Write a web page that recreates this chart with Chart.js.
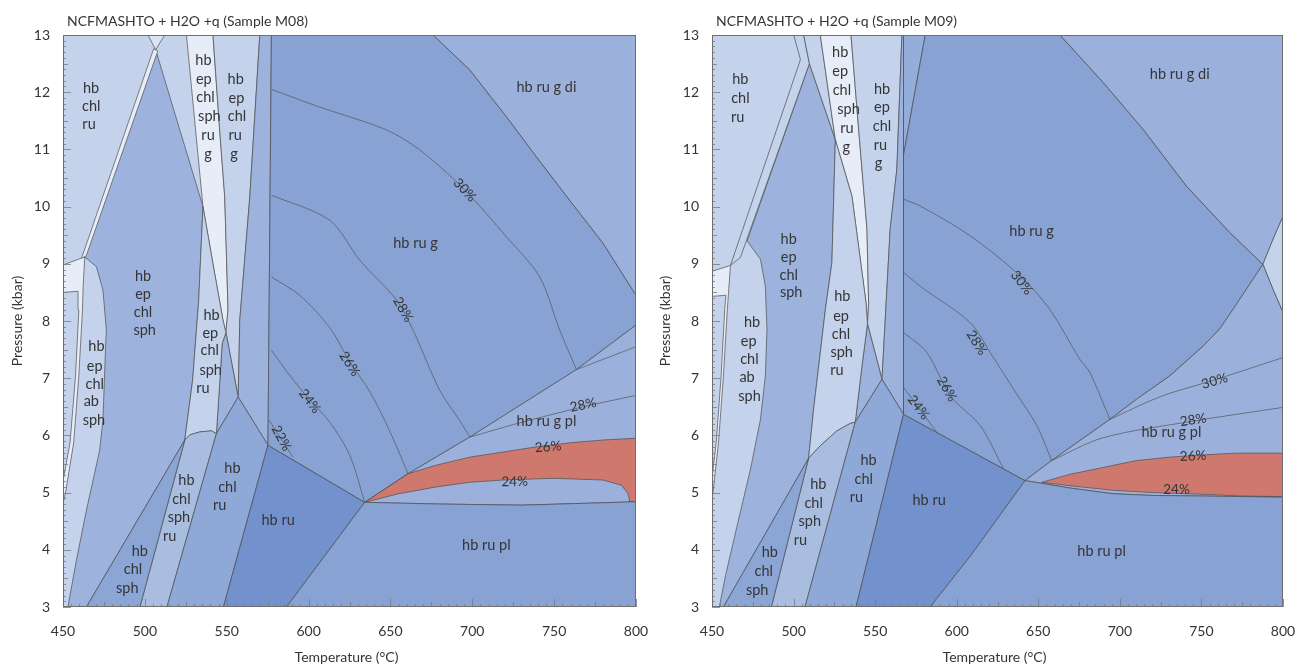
<!DOCTYPE html>
<html>
<head>
<meta charset="utf-8">
<script src="https://cdn.jsdelivr.net/npm/chart.js@4.4.1/dist/chart.umd.min.js"></script>
<style>
  html, body { margin: 0; padding: 0; background: #ffffff; }
  #wrap { position: relative; width: 1296px; height: 666px; overflow: hidden; }
  .panel { position: absolute; top: 0; width: 648px; height: 666px; }
</style>
</head>
<body>
<div id="wrap">
  <div class="panel" style="left:0px"><canvas id="m08" width="648" height="666"></canvas></div>
  <div class="panel" style="left:648px"><canvas id="m09" width="648" height="666"></canvas></div>
</div>
<script>
// ---------- axes ----------
const temperatureRange = [450, 800];   // °C
const pressureRange = [3, 13];         // kbar
const temperatureStep = 50;
const pressureStep = 1;

// ---------- Sample M08 : phase fields, [T (°C), P (kbar)] ----------
const m08_hbEpChlSph = [[506.6,12.74],[535.5,10.0],[532.9,8.37],[529.2,6.97],[524.4,5.92],[464.3,3],[453,3],[458.2,3.82],[464.3,4.69],[472.4,5.74],[474.4,6.27],[476.1,7.61],[476.5,7.84],[474.4,8.54],[470.4,8.95],[463.3,9.12]];
const m08_strip = [[460.9,9.06],[505.4,12.76],[507.9,12.72],[464.3,9.15]];
const m08_topNotch = [[501.9,13],[512.1,13],[506.6,12.74]];
const m08_leftWhite = [[450,8.98],[463.3,9.12],[462.3,8.6],[461.9,8.19],[459.6,7.02],[456.5,5.87],[451.8,5.04],[450,4.8],[450,5.2],[454.3,5.87],[457.6,7.02],[459.7,8.19],[459.2,8.52],[450,8.5]];
const m08_epChlSphRuG = [[525.4,13],[541.6,13],[545.7,11.34],[548.8,10.17],[550.8,8.2],[549.5,7.8],[547.7,8.02],[541.6,9.0],[535.5,10.0]];
const m08_epChlRuG = [[541.6,13],[570.2,13],[564.1,10.17],[558,8.02],[557,6.67],[549.5,7.8],[550.8,8.2],[548.8,10.17],[545.7,11.34]];
const m08_column = [[570.2,13],[577.3,13],[575.2,5.83],[557,6.67],[558,8.02],[564.1,10.17]];
const m08_wedge = [[549.5,7.8],[557,6.67],[543.7,6.03],[545.7,6.91],[547.2,7.6]];
const m08_epChlSphRu = [[535.5,10.0],[541.6,9.0],[547.7,8.02],[549.5,7.8],[547.2,7.6],[545.7,6.91],[543.7,6.03],[540.7,6.08],[533.5,6.06],[527.5,6.01],[524.4,5.92],[529.2,6.97],[532.9,8.37]];
const m08_chlSphRu = [[543.7,6.03],[513.5,3],[497,3],[524.4,5.92],[527.5,6.01],[533.5,6.06],[540.7,6.08]];
const m08_chlRu = [[557,6.67],[575.2,5.83],[548,3],[513.5,3],[543.7,6.03]];
const m08_chlSph = [[524.4,5.92],[497,3],[464.3,3]];
const m08_hbRu = [[575.2,5.83],[634.3,4.83],[586.5,3],[548,3]];
const m08_ruG = [[577.3,13],[676.1,13],[698.5,12.39],[720.9,11.57],[739.2,10.87],[759.5,10.11],[779.9,9.36],[800,8.45],[800,7.93],[763.6,7.15],[698.5,5.97],[660.8,5.33],[634.3,4.83],[575.2,5.83]];
const m08_ruGDi = [[676.1,13],[800,13],[800,8.45],[779.9,9.36],[759.5,10.11],[739.2,10.87],[720.9,11.57],[698.5,12.39]];
const m08_ruGPl = [[634.3,4.83],[660.8,5.33],[698.5,5.97],[763.6,7.15],[800,7.93],[800,4.84],[730,4.78],[680,4.80]];
const m08_garnet24to26 = [[634.3,4.83],[655,4.98],[678.1,5.10],[698.5,5.18],[718.8,5.22],[749.3,5.25],[779.9,5.22],[791.1,5.13],[795.2,4.98],[796.2,4.84],[800,4.84],[800,5.95],[780,5.92],[759.5,5.87],[739.2,5.80],[718.8,5.71],[698.5,5.62],[678,5.48],[660.8,5.33]];
const m08_ruPl = [[634.3,4.83],[680,4.80],[730,4.78],[800,4.84],[800,3],[586.5,3]];

// garnet isopleths (vol %)
const m08_iso30 = [[577.3,12.05],[606.8,11.74],[647.6,11.34],[667.9,10.99],[694.4,10.32],[720.9,9.47],[741.2,8.77],[753.4,7.84],[763.6,7.15]];
const m08_iso28 = [[577.3,10.2],[613,9.76],[631.3,9.06],[653.7,8.37],[663.8,7.84],[680.1,6.79],[692.3,6.26],[698.5,5.97]];
const m08_iso26 = [[577.3,8.77],[594.6,8.45],[613,7.88],[625.3,7.28],[637.5,6.76],[649.8,6.06],[660.8,5.33]];
const m08_iso24 = [[577.3,7.49],[588.5,7.05],[600.7,6.62],[613,6.23],[625.2,5.65],[634.3,4.83]];
const m08_iso22 = [[575.8,6.27],[583,5.95],[590.5,5.62]];
const m08_iso30pl = [[763.6,7.15],[800,7.55]];
const m08_iso28pl = [[698.5,5.97],[729,6.22],[767.7,6.5],[800,6.70]];

// field names: [text, T, P]
const m08_fieldLabels = [
  ["hb",467.1,12.06],["chl",467.3,11.75],["ru",465.9,11.44],
  ["hb",535.8,12.56],["ep",536,12.23],["chl",537,11.91],["sph",539.4,11.58],["ru",538.6,11.25],["g",538.6,10.92],
  ["hb",555.5,12.23],["ep",555.9,11.9],["chl",556.3,11.58],["ru",555.1,11.25],["g",554.5,10.92],
  ["hb",498.9,8.78],["ep",498.9,8.47],["chl",498.9,8.15],["sph",499.9,7.83],
  ["hb",470.4,7.55],["ep",469.4,7.21],["chl",469.4,6.9],["ab",467.3,6.59],["sph",468.9,6.27],
  ["hb",540.7,8.1],["ep",540,7.78],["chl",539.6,7.48],["sph",540.2,7.14],["ru",535.5,6.82],
  ["hb",525.4,5.22],["chl",522.3,4.88],["sph",520.8,4.56],["ru",515.2,4.24],
  ["hb",553.5,5.42],["chl",550.4,5.10],["ru",545.7,4.78],
  ["hb",496.9,3.98],["chl",492.8,3.66],["sph",489.3,3.32],
  ["hb ru",581.4,4.51],["hb ru pl",708.6,4.08],["hb ru g pl",745.3,6.25],
  ["hb ru g",665.3,9.36],["hb ru g di",745.3,12.09]
];
// isopleth values: [text, T, P, angle°]
const m08_isoLabels = [
  ["30%",695.4,10.29,47],["28%",657.7,8.2,60],["26%",625.1,7.25,57],["24%",600.7,6.6,52],["22%",583.4,5.95,62],
  ["28%",767.7,6.53,-12],["26%",746.3,5.80,-5],["24%",725.9,5.19,-1]
];

// ---------- Sample M09 : phase fields ----------
const m09_hbEpChlSph = [[509.7,12.5],[525.6,11.17],[523.5,9.02],[519.5,8.2],[512.3,6.46],[509.2,5.6],[457,3],[454.5,3],[458.3,3.55],[465.4,4.42],[473.6,5.41],[479.7,6.28],[482.7,7.04],[483.7,7.86],[482.7,8.61],[479.7,9.08],[471.5,9.4]];
const m09_strip = [[461.3,8.97],[504.2,12.57],[500.1,13],[506.2,13],[509.7,12.5],[467.4,9.11]];
const m09_leftWhite = [[450,8.87],[461.3,8.97],[459.4,8.2],[457,7.04],[454,5.88],[450.6,5.0],[450,4.9],[450,5.25],[452.6,5.88],[455.6,7.04],[457.8,8.2],[458.5,8.45],[450,8.43]];
const m09_topWedge = [[506.2,13],[516.4,13],[525.6,11.17],[509.7,12.5]];
const m09_epChlSphRuG = [[516.4,13],[535.2,13],[539.9,11.35],[545,9.6],[546,8.3],[545.3,7.95],[544.5,8.3],[535.8,10.18],[525.6,11.17]];
const m09_epChlRuG = [[535.2,13],[566.4,13],[563.3,10.65],[559.2,9.6],[556.2,8.03],[554.2,6.98],[545.3,7.95],[546,8.3],[545,9.6],[539.9,11.35]];
const m09_column = [[566.4,13],[567.4,13],[567.4,6.37],[554.2,6.98],[556.2,8.03],[559.2,9.6],[563.3,10.65]];
const m09_sliver = [[567.4,13],[580.7,13],[567.4,10.9]];
const m09_wedge = [[545.3,7.95],[554.2,6.98],[537.8,6.23],[541.9,7.21]];
const m09_epChlSphRu = [[525.6,11.17],[535.8,10.18],[544.5,8.3],[545.3,7.95],[541.9,7.21],[537.8,6.23],[534.8,6.21],[526.6,6.08],[516.4,5.82],[509.2,5.6],[512.3,6.46],[519.5,8.2],[523.5,9.02]];
const m09_chlSphRu = [[537.8,6.23],[507,3],[486.4,3],[509.2,5.6],[516.4,5.82],[526.6,6.08],[534.8,6.21]];
const m09_chlRu = [[554.2,6.98],[567.4,6.37],[538.3,3],[507,3],[537.8,6.23]];
const m09_chlSph = [[509.2,5.6],[486.4,3],[457,3]];
const m09_hbRu = [[567.4,6.37],[641.9,5.21],[608.3,3.89],[583.7,3],[538.3,3]];
const m09_ruG = [[567.4,10.9],[580.7,13],[663.3,13],[689.8,12.17],[714.3,11.35],[740.8,10.36],[767.3,9.55],[787.7,8.99],[769.3,8.2],[761.2,7.86],[751,7.56],[730.6,7.04],[710.2,6.63],[693.9,6.28],[658.2,5.56],[641.9,5.21],[567.4,6.37]];
const m09_ruGDi = [[663.3,13],[800,13],[800,9.83],[793.9,9.43],[787.7,8.99],[767.3,9.55],[740.8,10.36],[714.3,11.35],[689.8,12.17]];
const m09_ruGDiPl = [[787.7,8.99],[793.9,9.43],[800,9.83],[800,8.15],[793.9,8.55]];
const m09_ruGPl = [[641.9,5.21],[658.2,5.56],[693.9,6.28],[710.2,6.63],[730.6,7.04],[751,7.56],[761.2,7.86],[769.3,8.2],[787.7,8.99],[793.9,8.55],[800,8.15],[800,4.92],[751,4.94],[720.4,4.95],[695.9,4.98],[669.4,5.08]];
const m09_garnet24to26 = [[652.1,5.18],[669.4,5.32],[689.8,5.44],[710.2,5.56],[730.6,5.62],[751,5.66],[771.4,5.69],[800,5.69],[800,4.93],[775,4.94],[751,4.97],[720.4,5.0],[695.9,5.04],[669.4,5.12]];
const m09_ruPl = [[641.9,5.21],[669.4,5.08],[695.9,4.98],[720.4,4.95],[751,4.94],[800,4.92],[800,3],[583.7,3],[608.3,3.89]];

const m09_iso30 = [[567.4,10.13],[577.6,10.01],[608.2,9.49],[638.8,8.79],[657.1,8.2],[675.5,7.33],[681.6,7.1],[693.9,6.28]];
const m09_iso28 = [[567.4,8.85],[577.6,8.61],[608.3,7.97],[620.5,7.45],[634.8,6.81],[649.1,6.17],[658.2,5.56]];
const m09_iso26 = [[567.4,7.8],[581.7,7.45],[596.1,6.69],[614.4,6.17],[628.8,5.41]];
const m09_iso24 = [[567.4,6.84],[576.6,6.49],[587.8,6.05]];
const m09_iso30pl = [[693.9,6.28],[725,6.68],[758,6.97],[800,7.36]];
const m09_iso28pl = [[658.2,5.56],[689.8,5.96],[744.9,6.25],[800,6.49]];

const m09_fieldLabels = [
  ["hb",467.4,12.22],["chl",467.4,11.89],["ru",465.8,11.56],
  ["hb",528.6,12.69],["ep",528.6,12.37],["chl",529.6,12.03],["sph",533.7,11.7],["ru",532.7,11.36],["g",532.3,11.04],
  ["hb",554.2,12.05],["ep",554.2,11.73],["chl",554.2,11.41],["ru",553.2,11.07],["g",552.1,10.75],
  ["hb",497,9.43],["ep",497,9.11],["chl",497,8.8],["sph",498.5,8.5],
  ["hb",529.9,8.44],["ep",529.1,8.09],["chl",529.1,7.77],["sph",529.5,7.45],["ru",526.6,7.13],
  ["hb",474.6,7.97],["ep",472.5,7.65],["chl",472.9,7.33],["ab",471.5,7.01],["sph",473,6.68],
  ["hb",515.2,5.15],["chl",512.3,4.82],["sph",509.9,4.5],["ru",504.2,4.17],
  ["hb",546,5.57],["chl",543,5.24],["ru",538.5,4.92],
  ["hb",485.4,3.96],["chl",481.7,3.63],["sph",477.7,3.3],
  ["hb ru",583.1,4.86],["hb ru pl",688.8,3.98],["hb ru g pl",731.6,6.05],
  ["hb ru g",645.9,9.57],["hb ru g di",736.7,12.31]
];
const m09_isoLabels = [
  ["30%",639.8,8.67,52],["28%",612.2,7.62,58],["26%",594,6.81,60],["24%",576.6,6.49,52],
  ["30%",758.1,6.95,-16],["28%",744.9,6.27,-9],["26%",744.9,5.64,-3],["24%",734.7,5.06,0]
];

// ---------- colours ----------
const C = {
  pale:   '#c4d2eb',
  white:  '#e7edf8',
  notch:  '#dae3f3',
  mid:    '#9db3dd',
  sliver: '#94add9',
  lightMid: '#a9bde1',
  chlRu:  '#8ea8d7',
  chlSph: '#8ba5d5',
  hbRu:   '#7391cc',
  ruG:    '#87a2d3',
  ruGDi:  '#9bb1dc',
  ruGPl:  '#9bb1dc',
  ruPl:   '#87a2d3',
  garnet: '#cf786e'
};
const FONT = 'Lato, "Open Sans", sans-serif';
const TEXT = '#353535';
const EDGE = '#4e4e4e';

function fieldSet(pts, color) {
  const data = pts.map(p => ({ x: p[0], y: p[1] }));
  data.push({ x: pts[0][0], y: pts[0][1] });
  return { data, backgroundColor: color, borderColor: EDGE, borderWidth: 0.7,
           fill: 'shape', pointRadius: 0, pointHoverRadius: 0, tension: 0 };
}
function isoSet(pts) {
  return { data: pts.map(p => ({ x: p[0], y: p[1] })), borderColor: '#555555', borderWidth: 0.7,
           fill: false, pointRadius: 0, pointHoverRadius: 0, tension: 0.3 };
}

function decorPlugin(title, fieldLabels, isoLabels) {
  return {
    id: 'decor',
    beforeDraw(chart) {
      const { ctx, chartArea: a } = chart;
      ctx.save();
      ctx.fillStyle = '#ffffff';
      ctx.fillRect(0, 0, chart.width, chart.height);
      ctx.fillStyle = C.pale;
      ctx.fillRect(a.left, a.top, a.right - a.left, a.bottom - a.top);
      ctx.restore();
    },
    afterDatasetsDraw(chart) {
      const { ctx, chartArea: a, scales } = chart;
      const xs = scales.x, ys = scales.y;
      ctx.save();
      // inward minor ticks
      ctx.strokeStyle = '#7a7a7a';
      ctx.lineWidth = 0.8;
      ctx.beginPath();
      for (let i = pressureRange[0] * 10; i <= pressureRange[1] * 10; i++) {
        const y = Math.round(ys.getPixelForValue(i / 10)) + 0.5;
        const len = i % 10 === 0 ? 8 : (i % 5 === 0 ? 5 : 3);
        ctx.moveTo(a.left, y); ctx.lineTo(a.left + len, y);
      }
      for (let t = temperatureRange[0]; t <= temperatureRange[1]; t += 5) {
        const x = Math.round(xs.getPixelForValue(t)) + 0.5;
        const len = t % 50 === 0 ? 8 : (t % 25 === 0 ? 5 : 3);
        ctx.moveTo(x, a.bottom); ctx.lineTo(x, a.bottom - len);
      }
      ctx.stroke();
      // frame
      ctx.strokeStyle = '#6e6e6e';
      ctx.lineWidth = 1;
      ctx.strokeRect(a.left + 0.5, a.top + 0.5, a.right - a.left - 1, a.bottom - a.top - 1);

      // field names
      ctx.fillStyle = TEXT;
      ctx.font = '14.5px ' + FONT;
      ctx.textAlign = 'center';
      ctx.textBaseline = 'middle';
      for (const [txt, t, p] of fieldLabels) {
        ctx.fillText(txt, xs.getPixelForValue(t), ys.getPixelForValue(p));
      }
      // isopleth values
      ctx.font = '13.5px ' + FONT;
      for (const [txt, t, p, ang] of isoLabels) {
        ctx.save();
        ctx.translate(xs.getPixelForValue(t), ys.getPixelForValue(p));
        ctx.rotate(ang * Math.PI / 180);
        ctx.fillText(txt, 0, 0);
        ctx.restore();
      }
      // titles
      ctx.font = '14px ' + FONT;
      ctx.textAlign = 'left';
      ctx.textBaseline = 'alphabetic';
      ctx.fillText(title, a.left + 4, 26);
      ctx.font = '14px ' + FONT;
      ctx.textAlign = 'center';
      ctx.fillText('Temperature (\u00B0C)', (a.left + a.right) / 2 - 3, 662);
      ctx.save();
      ctx.translate(22, (a.top + a.bottom) / 2);
      ctx.rotate(-Math.PI / 2);
      ctx.fillText('Pressure (kbar)', 0, 0);
      ctx.restore();
      ctx.restore();
    }
  };
}

function makeChart(id, title, fields, isos, fieldLabels, isoLabels, yWidth, padRight) {
  const sets = fields.map(f => fieldSet(f[0], f[1])).concat(isos.map(isoSet));
  sets.forEach((s, i) => { s.order = -i; });
  return new Chart(document.getElementById(id), {
    type: 'line',
    data: { datasets: sets },
    options: {
      responsive: false,
      devicePixelRatio: 1,
      animation: false,
      events: [],
      layout: { padding: { left: 0, top: 35, right: padRight, bottom: 0 } },
      plugins: { legend: { display: false }, tooltip: { enabled: false }, title: { display: false } },
      scales: {
        x: {
          type: 'linear', min: temperatureRange[0], max: temperatureRange[1],
          afterFit: s => { s.height = 59; s.paddingLeft = 0; s.paddingRight = 0; },
          grid: { display: false, drawTicks: false },
          border: { display: false },
          ticks: { stepSize: temperatureStep, padding: 16, color: TEXT, font: { family: FONT, size: 14 }, maxRotation: 0 }
        },
        y: {
          type: 'linear', min: pressureRange[0], max: pressureRange[1],
          afterFit: s => { s.width = yWidth; s.paddingTop = 0; s.paddingBottom = 0; },
          grid: { display: false, drawTicks: false },
          border: { display: false },
          ticks: { stepSize: pressureStep, padding: 13, color: TEXT, font: { family: FONT, size: 14 } }
        }
      }
    },
    plugins: [decorPlugin(title, fieldLabels, isoLabels)]
  });
}

makeChart('m08', 'NCFMASHTO + H2O +q (Sample M08)',
  [
    [m08_hbEpChlSph, C.mid], [m08_strip, C.white], [m08_topNotch, C.notch], [m08_leftWhite, C.white],
    [m08_epChlSphRuG, C.white], [m08_epChlRuG, C.pale], [m08_column, C.mid], [m08_wedge, C.mid],
    [m08_epChlSphRu, C.pale], [m08_chlSphRu, C.lightMid], [m08_chlRu, C.chlRu], [m08_chlSph, C.chlSph],
    [m08_hbRu, C.hbRu], [m08_ruG, C.ruG], [m08_ruGDi, C.ruGDi], [m08_ruGPl, C.ruGPl],
    [m08_garnet24to26, C.garnet], [m08_ruPl, C.ruPl]
  ],
  [m08_iso30, m08_iso28, m08_iso26, m08_iso24, m08_iso22, m08_iso30pl, m08_iso28pl],
  m08_fieldLabels, m08_isoLabels, 63, 12);

makeChart('m09', 'NCFMASHTO + H2O +q (Sample M09)',
  [
    [m09_hbEpChlSph, C.mid], [m09_strip, C.pale], [m09_leftWhite, C.white], [m09_topWedge, C.pale],
    [m09_epChlSphRuG, C.white], [m09_epChlRuG, C.pale], [m09_column, C.mid], [m09_sliver, C.sliver],
    [m09_wedge, C.mid], [m09_epChlSphRu, C.pale], [m09_chlSphRu, C.lightMid], [m09_chlRu, C.chlRu],
    [m09_chlSph, C.chlSph], [m09_hbRu, C.hbRu], [m09_ruG, C.ruG], [m09_ruGDi, C.ruGDi],
    [m09_ruGDiPl, C.pale], [m09_ruGPl, C.ruGPl], [m09_garnet24to26, C.garnet], [m09_ruPl, C.ruPl]
  ],
  [m09_iso30, m09_iso28, m09_iso26, m09_iso24, m09_iso30pl, m09_iso28pl],
  m09_fieldLabels, m09_isoLabels, 64, 13);
</script>
</body>
</html>
